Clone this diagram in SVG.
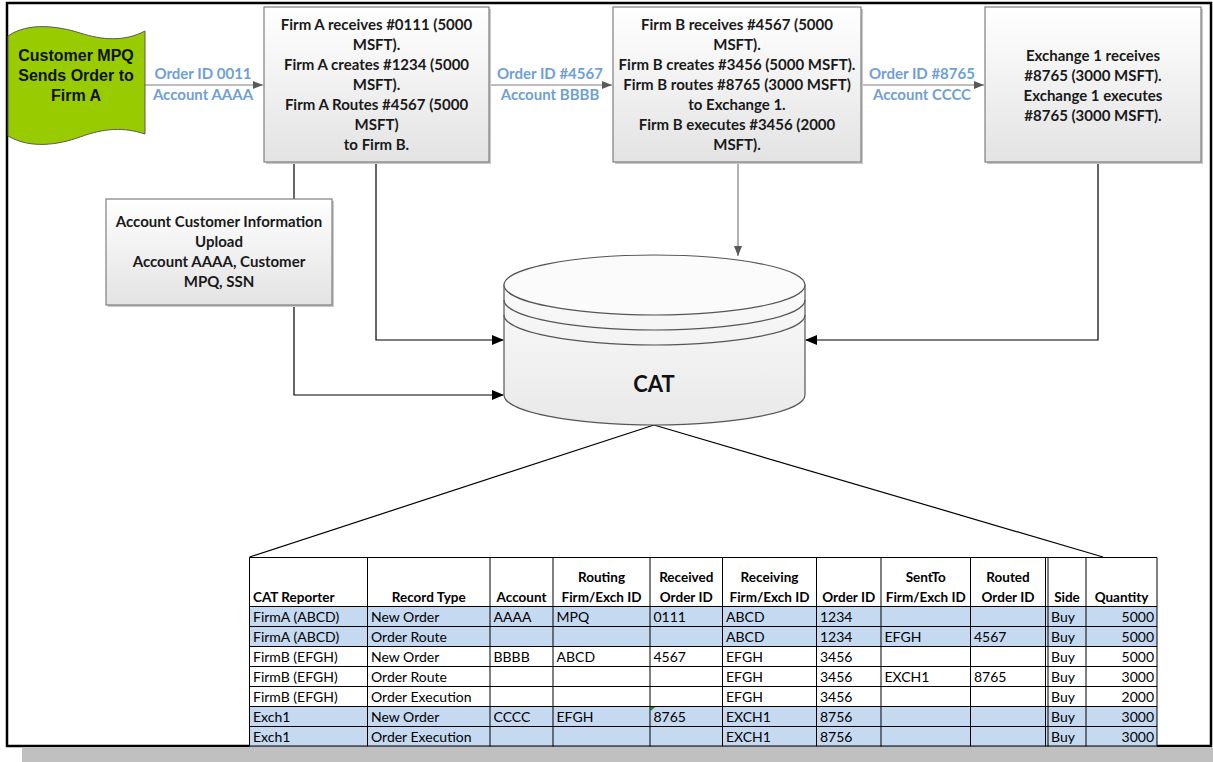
<svg xmlns="http://www.w3.org/2000/svg" width="1213" height="762" viewBox="0 0 1213 762">
<defs>
<linearGradient id="boxg" x1="0" y1="0" x2="0" y2="1">
<stop offset="0" stop-color="#ffffff"/>
<stop offset="1" stop-color="#e3e3e3"/>
</linearGradient>
<linearGradient id="cylg" x1="0" y1="0" x2="0" y2="1">
<stop offset="0" stop-color="#fafafa"/>
<stop offset="1" stop-color="#e9e9e9"/>
</linearGradient>
<marker id="ab" markerWidth="12" markerHeight="10" refX="11" refY="5" orient="auto" markerUnits="userSpaceOnUse">
<path d="M0,0 L12,5 L0,10 Z" fill="#000"/>
</marker>
<marker id="ag" markerWidth="10" markerHeight="8" refX="10" refY="4" orient="auto" markerUnits="userSpaceOnUse">
<path d="M0,0 L10,4 L0,8 Z" fill="#595959"/>
</marker>
</defs>
<style>
.box{fill:url(#boxg);stroke:#7f7f7f;stroke-width:1.2}
.shadow{fill:#c8c8c8}
.bt{font-family:Lato,"Liberation Sans",sans-serif;font-weight:bold;font-size:15px;fill:#1a1a1a;text-anchor:middle}
.lbl{font-family:Lato,"Liberation Sans",sans-serif;font-weight:bold;font-size:15px;fill:#6f9fd6;text-anchor:middle}
.cust{font-family:"Liberation Sans",Arial,sans-serif;font-weight:bold;font-size:16px;fill:#111;text-anchor:middle}
.con{fill:none;stroke:#000;stroke-width:1.2}
.cong{fill:none;stroke:#7f7f7f;stroke-width:1.2}
.th{font-family:Lato,"Liberation Sans",sans-serif;font-weight:bold;font-size:13.5px;fill:#000;text-anchor:middle}
.td{font-family:Lato,"Liberation Sans",sans-serif;font-size:14px;fill:#000}
.tq{font-family:Lato,"Liberation Sans",sans-serif;font-size:14px;fill:#000;text-anchor:end}
.grid{stroke:#000;stroke-width:1;fill:none}
.blue{fill:#c5d9f1}
</style>
<rect x="0" y="0" width="1213" height="762" fill="#fff"/>
<rect x="22" y="748" width="1191" height="14" fill="#c0c0c0"/>
<rect x="7" y="3" width="1204" height="743" fill="#fff" stroke="#000" stroke-width="2.5"/>

<g id="connectors">
<path class="cong" d="M145,85 L263,85" marker-end="url(#ag)"/>
<path class="cong" d="M489,85 L612,85" marker-end="url(#ag)"/>
<path class="cong" d="M861,85 L984,85" marker-end="url(#ag)"/>
<path class="con" d="M294,162 L294,199"/>
<path class="con" d="M294,305 L294,395 L503,395" marker-end="url(#ab)"/>
<path class="con" d="M376,162 L376,340 L503,340" marker-end="url(#ab)"/>
<path class="cong" d="M738,162 L738,256" marker-end="url(#ag)"/>
<path class="con" d="M1098,162 L1098,340 L806,340" marker-end="url(#ab)"/>
<path class="con" d="M654,425 L249.5,557"/>
<path class="con" d="M654,425 L1103,557"/>
</g>

<g id="customer">
<path d="M8,36 C28,22 58,26 80,33 C102,40 124,42 145,31 L145,134 C124,127 104,128 80,137 C58,145 30,149 8,136 Z" fill="#99cc00" stroke="#5a5a5a" stroke-width="1"/>
<text class="cust" x="76" y="61">Customer MPQ</text>
<text class="cust" x="76" y="81">Sends Order to</text>
<text class="cust" x="76" y="101">Firm A</text>
</g>

<g id="label1">
<text class="lbl" x="203" y="79">Order ID 0011</text>
<text class="lbl" x="203" y="99.5">Account AAAA</text>
</g>
<g id="label2">
<text class="lbl" x="550" y="79">Order ID #4567</text>
<text class="lbl" x="550" y="99.5">Account BBBB</text>
</g>
<g id="label3">
<text class="lbl" x="922" y="79">Order ID #8765</text>
<text class="lbl" x="922" y="99.5">Account CCCC</text>
</g>

<g id="firmA">
<rect class="shadow" x="266" y="9" width="225" height="155"/>
<rect class="box" x="264" y="7" width="225" height="155"/>
<text class="bt" x="376.5" y="29.5">Firm A receives #0111 (5000</text>
<text class="bt" x="376.5" y="49.5">MSFT).</text>
<text class="bt" x="376.5" y="69.5">Firm A creates #1234 (5000</text>
<text class="bt" x="376.5" y="89.5">MSFT).</text>
<text class="bt" x="376.5" y="109.5">Firm A Routes #4567 (5000</text>
<text class="bt" x="376.5" y="129.5">MSFT)</text>
<text class="bt" x="376.5" y="149.5">to Firm B.</text>
</g>

<g id="firmB">
<rect class="shadow" x="615" y="9" width="248" height="155"/>
<rect class="box" x="613" y="7" width="248" height="155"/>
<text class="bt" x="737" y="29.5">Firm B receives #4567 (5000</text>
<text class="bt" x="737" y="49.5">MSFT).</text>
<text class="bt" x="737" y="69.5">Firm B creates #3456 (5000 MSFT).</text>
<text class="bt" x="737" y="89.5">Firm B routes #8765 (3000 MSFT)</text>
<text class="bt" x="737" y="109.5">to Exchange 1.</text>
<text class="bt" x="737" y="129.5">Firm B executes #3456 (2000</text>
<text class="bt" x="737" y="149.5">MSFT).</text>
</g>

<g id="exchange">
<rect class="shadow" x="987" y="9" width="216" height="155"/>
<rect class="box" x="985" y="7" width="216" height="155"/>
<text class="bt" x="1093" y="60.5">Exchange 1 receives</text>
<text class="bt" x="1093" y="80.5">#8765 (3000 MSFT).</text>
<text class="bt" x="1093" y="100.5">Exchange 1 executes</text>
<text class="bt" x="1093" y="120.5">#8765 (3000 MSFT).</text>
</g>

<g id="account">
<rect class="shadow" x="108" y="201" width="226" height="106"/>
<rect class="box" x="106" y="199" width="226" height="106"/>
<text class="bt" x="219" y="227">Account Customer Information</text>
<text class="bt" x="219" y="247">Upload</text>
<text class="bt" x="219" y="267">Account AAAA, Customer</text>
<text class="bt" x="219" y="287">MPQ, SSN</text>
</g>

<g id="cat">
<path d="M504,285 L504,395 A150.5,30 0 0 0 805,395 L805,285 Z" fill="url(#cylg)" stroke="#555" stroke-width="1.2"/>
<ellipse cx="654.5" cy="285" rx="150.5" ry="30" fill="#fbfbfb" stroke="#555" stroke-width="1.2"/>
<path d="M504,300 A150.5,30 0 0 0 805,300" fill="none" stroke="#555" stroke-width="1.2"/>
<path d="M504,315 A150.5,30 0 0 0 805,315" fill="none" stroke="#555" stroke-width="1.2"/>
<text x="654" y="392" font-family="Lato,'Liberation Sans',sans-serif" font-weight="bold" font-size="22" fill="#111" text-anchor="middle">CAT</text>
</g>

<g id="table">
<rect x="249.5" y="557.5" width="907.5" height="189" fill="#fff"/>
<rect class="blue" x="249.5" y="606.5" width="907.5" height="40"/>
<rect class="blue" x="249.5" y="706.5" width="907.5" height="40"/>
<path d="M650.5,706.5 L656,706.5 L650.5,711 Z" fill="#1f8f1f"/>
<g class="grid">
<path d="M249.5,557.5 H1157 M249.5,606.5 H1157 M249.5,626.5 H1157 M249.5,646.5 H1157 M249.5,666.5 H1157 M249.5,686.5 H1157 M249.5,706.5 H1157 M249.5,726.5 H1157 M249.5,746 H1157"/>
<path d="M249.5,557.5 V746.5 M367.5,557.5 V746.5 M490,557.5 V746.5 M553,557.5 V746.5 M650,557.5 V746.5 M722.5,557.5 V746.5 M816.5,557.5 V746.5 M881,557.5 V746.5 M970.5,557.5 V746.5 M1045.5,557.5 V746.5 M1048,557.5 V746.5 M1086,557.5 V746.5 M1157,557.5 V746.5"/>
</g>
<text class="th" x="253" y="601.5" style="text-anchor:start">CAT Reporter</text>
<text class="th" x="428.75" y="601.5">Record Type</text>
<text class="th" x="521.5" y="601.5">Account</text>
<text class="th" x="601.5" y="581.5">Routing</text>
<text class="th" x="601.5" y="601.5">Firm/Exch ID</text>
<text class="th" x="686.25" y="581.5">Received</text>
<text class="th" x="686.25" y="601.5">Order ID</text>
<text class="th" x="769.5" y="581.5">Receiving</text>
<text class="th" x="769.5" y="601.5">Firm/Exch ID</text>
<text class="th" x="848.75" y="601.5">Order ID</text>
<text class="th" x="925.75" y="581.5">SentTo</text>
<text class="th" x="925.75" y="601.5">Firm/Exch ID</text>
<text class="th" x="1008" y="581.5">Routed</text>
<text class="th" x="1008" y="601.5">Order ID</text>
<text class="th" x="1067" y="601.5">Side</text>
<text class="th" x="1121.5" y="601.5">Quantity</text>

<g class="td">
<text x="253" y="621.5">FirmA (ABCD)</text><text x="371" y="621.5">New Order</text><text x="493.5" y="621.5">AAAA</text><text x="556.5" y="621.5">MPQ</text><text x="653.5" y="621.5">0111</text><text x="726" y="621.5">ABCD</text><text x="820" y="621.5">1234</text><text x="1051" y="621.5">Buy</text>
<text x="253" y="641.5">FirmA (ABCD)</text><text x="371" y="641.5">Order Route</text><text x="726" y="641.5">ABCD</text><text x="820" y="641.5">1234</text><text x="884.5" y="641.5">EFGH</text><text x="974" y="641.5">4567</text><text x="1051" y="641.5">Buy</text>
<text x="253" y="661.5">FirmB (EFGH)</text><text x="371" y="661.5">New Order</text><text x="493.5" y="661.5">BBBB</text><text x="556.5" y="661.5">ABCD</text><text x="653.5" y="661.5">4567</text><text x="726" y="661.5">EFGH</text><text x="820" y="661.5">3456</text><text x="1051" y="661.5">Buy</text>
<text x="253" y="681.5">FirmB (EFGH)</text><text x="371" y="681.5">Order Route</text><text x="726" y="681.5">EFGH</text><text x="820" y="681.5">3456</text><text x="884.5" y="681.5">EXCH1</text><text x="974" y="681.5">8765</text><text x="1051" y="681.5">Buy</text>
<text x="253" y="701.5">FirmB (EFGH)</text><text x="371" y="701.5">Order Execution</text><text x="726" y="701.5">EFGH</text><text x="820" y="701.5">3456</text><text x="1051" y="701.5">Buy</text>
<text x="253" y="721.5">Exch1</text><text x="371" y="721.5">New Order</text><text x="493.5" y="721.5">CCCC</text><text x="556.5" y="721.5">EFGH</text><text x="653.5" y="721.5">8765</text><text x="726" y="721.5">EXCH1</text><text x="820" y="721.5">8756</text><text x="1051" y="721.5">Buy</text>
<text x="253" y="741.5">Exch1</text><text x="371" y="741.5">Order Execution</text><text x="726" y="741.5">EXCH1</text><text x="820" y="741.5">8756</text><text x="1051" y="741.5">Buy</text>
</g>
<g class="tq">
<text x="1154" y="621.5">5000</text>
<text x="1154" y="641.5">5000</text>
<text x="1154" y="661.5">5000</text>
<text x="1154" y="681.5">3000</text>
<text x="1154" y="701.5">2000</text>
<text x="1154" y="721.5">3000</text>
<text x="1154" y="741.5">3000</text>
</g>
</g>
</svg>
